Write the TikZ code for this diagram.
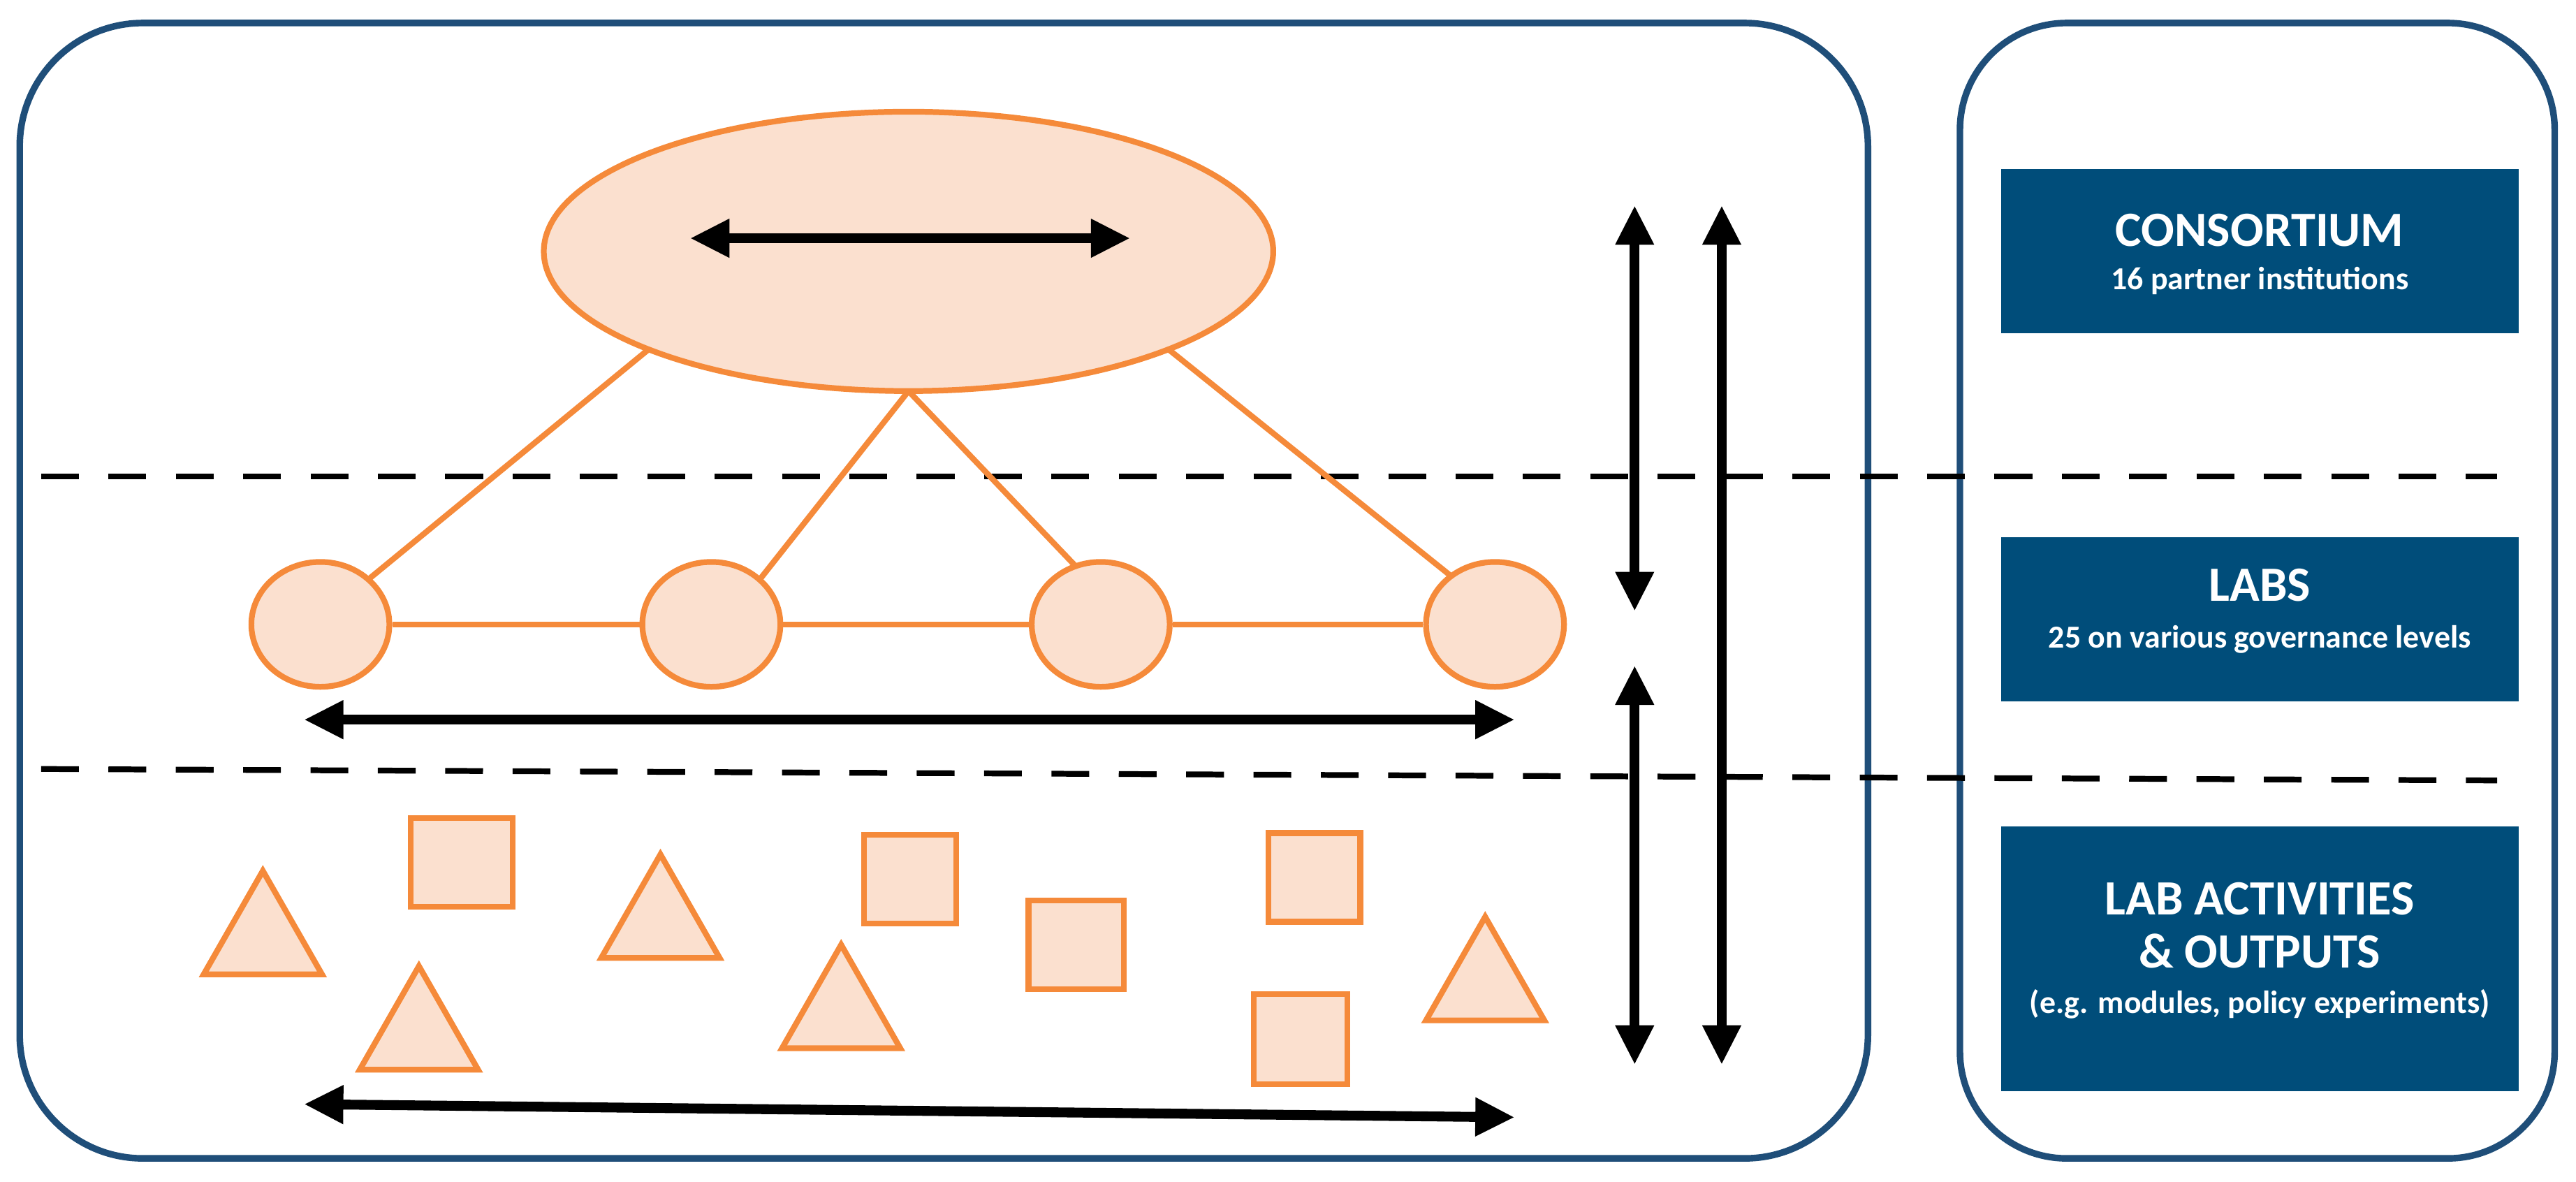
\documentclass[tikz,border=0pt]{standalone}
\usepackage{fontspec}
\setmainfont{Carlito}
\usetikzlibrary{arrows.meta,shapes.geometric}
\definecolor{bl}{RGB}{0,77,122}
\definecolor{fr}{RGB}{31,78,121}
\definecolor{or}{RGB}{245,138,58}
\definecolor{pk}{RGB}{251,224,207}
\begin{document}
\begin{tikzpicture}[x=1pt,y=-1pt,
 frame/.style={draw=fr,line width=4pt,rounded corners=75pt},
 box/.style={fill=bl,minimum width=315pt,inner sep=0},
 ttl/.style={text=white,font=\fontsize{30}{32}\selectfont\bfseries,inner sep=0},
 sub/.style={text=white,font=\fontsize{19.5}{22}\selectfont\bfseries,inner sep=0},
 org/.style={draw=or,line width=3.5pt,fill=pk},
 ol/.style={draw=or,line width=3.5pt},
 dsh/.style={line width=3.5pt,dash pattern=on 23pt off 18pt},
 arr/.style={line width=6pt,{Triangle[length=24pt,width=22pt]}-{Triangle[length=24pt,width=22pt]}}]
\useasboundingbox (0,0) rectangle (1568,719);
\draw[frame] (12,14) rectangle (1137,705);
\draw[frame,rounded corners=65pt] (1193,14) rectangle (1555,705);
\node[box,minimum height=100pt] (c) at (1375.5,153) {};
\node[box,minimum height=100pt] (l) at (1375.5,377) {};
\node[box,minimum height=161pt] (a) at (1375.5,583.5) {};
\node[ttl] (c1) at (1375.5,140) {CONSORTIUM};
\node[sub] (c2) at (1375.5,171) {16 partner institutions};
\node[ttl] (l1) at (1375.5,356) {LABS};
\node[sub] (l2) at (1375.5,389) {25 on various governance levels};
\node[ttl] (a1) at (1375.5,547) {LAB ACTIVITIES};
\node[ttl] (a2) at (1375.5,579) {\& OUTPUTS};
\node[sub] (a3) at (1375.5,611) {(e.g. modules, policy experiments)};
\coordinate (d1a) at (25,290); \coordinate (d1b) at (1520,290);
\coordinate (d2a) at (25,468); \coordinate (d2b) at (1520,475);
\draw[dsh] (d1a)--(d1b);
\draw[dsh] (d2a)--(d2b);
\coordinate (t) at (553,238);
\draw[ol] (398,210) -- (225,352);
\draw[ol] (708,210) -- (885,352);
\draw[ol] (t) -- (463,352);
\draw[ol] (t) -- (658,348);
\node[org,ellipse,minimum width=444pt,minimum height=170pt] (e) at (553,153) {};
\foreach \i/\x in {1/195,2/433,3/670,4/910}
 \node[org,ellipse,minimum width=84pt,minimum height=76pt] (n\i) at (\x,380) {};
\draw[ol] (n1)--(n2); \draw[ol] (n2)--(n3); \draw[ol] (n3)--(n4);
\coordinate (ea) at (420,145); \coordinate (eb) at (688,145);
\draw[arr] (ea)--(eb);
\coordinate (ha) at (185,438); \coordinate (hb) at (922,438);
\draw[arr] (ha)--(hb);
\coordinate (ba) at (185,672); \coordinate (bb) at (922,680);
\draw[arr] (ba)--(bb);
\coordinate (v1a) at (995,125); \coordinate (v1b) at (995,372);
\coordinate (v2a) at (995,405); \coordinate (v2b) at (995,648);
\coordinate (v3a) at (1048,125); \coordinate (v3b) at (1048,648);
\draw[arr] (v1a)--(v1b); \draw[arr] (v2a)--(v2b); \draw[arr] (v3a)--(v3b);
\foreach \a/\b/\c/\d in {250/498/312/552, 526/508/582/562, 626/548/684/602, 772/507/828/561, 763/605/820/660}
 \draw[org] (\a,\b) rectangle (\c,\d);
\foreach \x/\y in {160/530, 402/520, 255/588, 512/575, 904/558}
 \draw[org,line join=miter] (\x,\y) -- (\x+36,\y+63) -- (\x-36,\y+63) -- cycle;
\end{tikzpicture}
\end{document}
